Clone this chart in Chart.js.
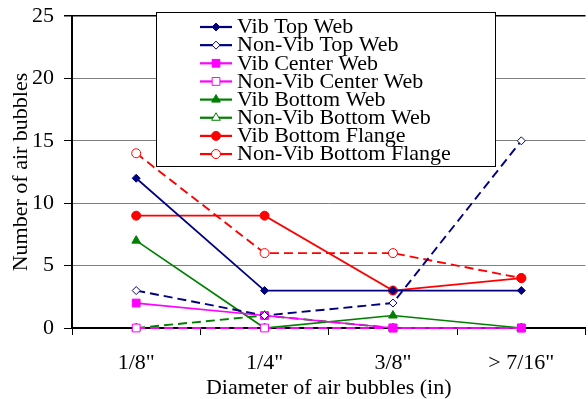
<!DOCTYPE html>
<html>
<head>
<meta charset="utf-8">
<script src="https://cdn.jsdelivr.net/npm/chart.js@4/dist/chart.umd.min.js"></script>
<style>
  html, body { margin: 0; padding: 0; overflow: hidden; background: #fff; }
  #wrap { width: 592px; height: 401px; position: relative; }
  .fontwarm { position: absolute; left: -9999px; top: 0; font: 22px 'Liberation Serif'; }
</style>
</head>
<body>
<div class="fontwarm">Number of air bubbles 0123456789</div>
<div id="wrap"><canvas id="c" width="592" height="401"></canvas></div>
<script>
// Bubble-size categories and counts per beam location
const categories = ['1/8"', '1/4"', '3/8"', '> 7/16"'];
const vibTopWeb          = [12, 3, 3, 3];
const nonVibTopWeb       = [3, 1, 2, 15];
const vibCenterWeb       = [2, 1, 0, 0];
const nonVibCenterWeb    = [0, 0, 0, 0];
const vibBottomWeb       = [7, 0, 1, 0];
const nonVibBottomWeb    = [0, 1, 0, 0];
const vibBottomFlange    = [9, 9, 3, 4];
const nonVibBottomFlange = [14, 6, 6, 4];
const yTickValues = [0, 5, 10, 15, 20, 25];

const FONT = "'Liberation Serif', 'Times New Roman', serif";
const NAVY = '#000080', MAGENTA = '#FF00FF', GREEN = '#008000', RED = '#FF0000';

function series(label, data, color, shape, radius, filled) {
  return {
    label, data,
    borderColor: color,
    backgroundColor: color,
    borderWidth: filled ? 1.7 : 1.9,
    borderDash: filled ? [] : [9, 5],
    pointStyle: shape,
    pointRadius: radius,
    pointHoverRadius: radius,
    pointBackgroundColor: filled ? color : '#FFFFFF',
    pointBorderColor: color,
    pointBorderWidth: 1,
    tension: 0,
    fill: false,
    clip: false
  };
}

const datasets = [
  series('Vib Top Web', vibTopWeb, NAVY, 'rectRot', 4, true),
  series('Non-Vib Top Web', nonVibTopWeb, NAVY, 'rectRot', 4, false),
  series('Vib Center Web', vibCenterWeb, MAGENTA, 'rect', 5.5, true),
  series('Non-Vib Center Web', nonVibCenterWeb, MAGENTA, 'rect', 5.5, false),
  series('Vib Bottom Web', vibBottomWeb, GREEN, 'triangle', 5, true),
  series('Non-Vib Bottom Web', nonVibBottomWeb, GREEN, 'triangle', 5, false),
  series('Vib Bottom Flange', vibBottomFlange, RED, 'circle', 4.5, true),
  series('Non-Vib Bottom Flange', nonVibBottomFlange, RED, 'circle', 4.5, false)
];

// Small marker painter for the legend samples
function marker(ctx, shape, x, y, r, fill, stroke) {
  ctx.save();
  ctx.beginPath();
  if (shape === 'rectRot') {
    ctx.moveTo(x, y - r); ctx.lineTo(x + r, y); ctx.lineTo(x, y + r); ctx.lineTo(x - r, y);
    ctx.closePath();
  } else if (shape === 'rect') {
    const s = r * Math.SQRT1_2;
    ctx.rect(x - s, y - s, 2 * s, 2 * s);
  } else if (shape === 'triangle') {
    ctx.moveTo(x, y - r);
    ctx.lineTo(x + r * 0.866, y + r * 0.5);
    ctx.lineTo(x - r * 0.866, y + r * 0.5);
    ctx.closePath();
  } else {
    ctx.arc(x, y, r, 0, Math.PI * 2);
  }
  ctx.fillStyle = fill;
  ctx.fill();
  ctx.lineWidth = 1;
  ctx.strokeStyle = stroke;
  ctx.stroke();
  ctx.restore();
}

// Boxed legend drawn inside the plot
const boxLegend = {
  id: 'boxLegend',
  afterDraw(chart) {
    const ctx = chart.ctx;
    const bx = 156, by = 12, bw = 339, bh = 154;
    ctx.save();
    ctx.fillStyle = '#fff';
    ctx.fillRect(bx, by, bw, bh);
    ctx.strokeStyle = '#000';
    ctx.lineWidth = 1;
    ctx.strokeRect(bx + 0.5, by + 0.5, bw, bh);
    ctx.font = '22px ' + FONT;
    ctx.textBaseline = 'middle';
    ctx.textAlign = 'left';
    chart.data.datasets.forEach((ds, i) => {
      const y = 27 + i * 18.15;
      ctx.beginPath();
      ctx.moveTo(200, y); ctx.lineTo(232, y);
      ctx.strokeStyle = ds.borderColor;
      ctx.lineWidth = 2.2;
      ctx.setLineDash([]);
      ctx.stroke();
      marker(ctx, ds.pointStyle, 216, y, ds.pointRadius, ds.pointBackgroundColor, ds.pointBorderColor);
      ctx.fillStyle = '#000';
      ctx.fillText(ds.label, 237, y + 0.5);
    });
    ctx.restore();
  }
};

function draw() {
  new Chart(document.getElementById('c'), {
    type: 'line',
    data: { labels: categories, datasets },
    plugins: [boxLegend],
    options: {
      responsive: false,
      animation: false,
      events: [],
      layout: { padding: { top: 16, left: 0, right: 0, bottom: 0 } },
      plugins: { legend: { display: false }, tooltip: { enabled: false } },
      scales: {
        x: {
          offset: true,
          afterFit(s) { s.height = 73; s.paddingLeft = 0; s.paddingRight = 0; },
          grid: { display: true, drawOnChartArea: false, offset: true, tickLength: 7, tickColor: '#000', color: '#000' },
          border: { color: '#000', width: 2 },
          ticks: { color: '#000', font: { family: FONT, size: 22 }, padding: 15, maxRotation: 0 },
          title: { display: true, text: 'Diameter of air bubbles (in)', color: '#000', font: { family: FONT, size: 22 }, padding: { top: 0, bottom: 0 } }
        },
        y: {
          min: 0, max: 25,
          afterFit(s) { s.width = 72; s.paddingTop = 0; s.paddingBottom = 0; },
          afterBuildTicks(s) { s.ticks = yTickValues.map(v => ({ value: v })); },
          grid: {
            color: ctx => (ctx.tick && ctx.tick.value === 25) ? '#000' : '#808080',
            lineWidth: ctx => (ctx.tick && ctx.tick.value === 25) ? 1.5 : 1,
            tickLength: 8, tickColor: '#000'
          },
          border: { color: '#000', width: 2 },
          ticks: { color: '#000', font: { family: FONT, size: 22 }, padding: 10 },
          title: { display: true, text: 'Number of air bubbles', color: '#000', font: { family: FONT, size: 22 }, padding: { top: 8, bottom: 0 } }
        }
      }
    }
  });
}

if (document.fonts && document.fonts.load) {
  document.fonts.load("22px 'Liberation Serif'").then(draw, draw);
} else {
  draw();
}
</script>
</body>
</html>
